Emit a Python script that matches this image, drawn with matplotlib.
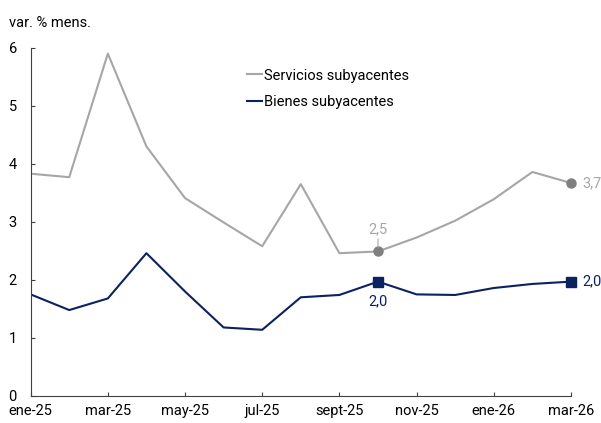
import matplotlib.pyplot as plt

plt.rcParams["font.family"] = ["Roboto", "DejaVu Sans"]

MONTHS = ["ene-25", "feb-25", "mar-25", "abr-25", "may-25", "jun-25", "jul-25",
          "ago-25", "sept-25", "oct-25", "nov-25", "dic-25", "ene-26", "feb-26", "mar-26"]
SERVICIOS = [3.83, 3.77, 5.90, 4.30, 3.41, 2.99, 2.58, 3.65, 2.46, 2.49,
             2.73, 3.02, 3.39, 3.86, 3.67]
BIENES = [1.75, 1.48, 1.68, 2.46, 1.80, 1.18, 1.14, 1.70, 1.74, 1.97,
          1.75, 1.74, 1.86, 1.93, 1.97]
Y_TICKS = [0, 1, 2, 3, 4, 5, 6]

GRAY = "#A6A6A6"
GRAY_MARK = "#7F7F7F"
NAVY = "#0C2160"
FS = 10.5

fig = plt.figure(figsize=(6.01, 4.23), dpi=100)
ax = fig.add_axes([0.051, 0.064, 0.899, 0.823])

x = list(range(len(MONTHS)))
ax.plot(x, SERVICIOS, color=GRAY, linewidth=1.5, label="Servicios subyacentes")
ax.plot(x, BIENES, color=NAVY, linewidth=1.5, label="Bienes subyacentes")

# highlighted points: oct-25 and the last month
for i in (9, len(MONTHS) - 1):
    ax.plot(x[i], SERVICIOS[i], "o", color=GRAY_MARK, markersize=6.5, clip_on=False)
    ax.plot(x[i], BIENES[i], "s", color=NAVY, markersize=7, clip_on=False)

fmt = lambda v: f"{v:.1f}".replace(".", ",")
ax.annotate(fmt(SERVICIOS[9]), (x[9], SERVICIOS[9]), xytext=(0, 11),
            textcoords="offset points", ha="center", va="bottom",
            color=GRAY, fontsize=FS,
            arrowprops=dict(arrowstyle="-", color=GRAY, lw=0.8, shrinkA=0, shrinkB=3))
ax.annotate(fmt(SERVICIOS[-1]), (x[-1], SERVICIOS[-1]), xytext=(8, 0),
            textcoords="offset points", ha="left", va="center",
            color=GRAY, fontsize=FS)
ax.annotate(fmt(BIENES[9]), (x[9], BIENES[9]), xytext=(0, -9),
            textcoords="offset points", ha="center", va="top",
            color=NAVY, fontsize=FS)
ax.annotate(fmt(BIENES[-1]), (x[-1], BIENES[-1]), xytext=(8, 0),
            textcoords="offset points", ha="left", va="center",
            color=NAVY, fontsize=FS)

ax.set_xlim(0, len(MONTHS) - 1)
ax.set_ylim(0, 6)
ax.set_yticks(Y_TICKS)
ax.set_xticks(x[::2])
ax.set_xticklabels(MONTHS[::2])
ax.tick_params(direction="in", length=3, width=0.8, colors="#404040",
               labelcolor="black", labelsize=FS)
ax.tick_params(axis="y", pad=10)
ax.tick_params(axis="x", pad=6)
for s in ("top", "right"):
    ax.spines[s].set_visible(False)
for s in ("left", "bottom"):
    ax.spines[s].set_color("#404040")
    ax.spines[s].set_linewidth(0.8)

ax.legend(loc="upper left", bbox_to_anchor=(0.377, 0.978), frameon=False,
          fontsize=FS, handlelength=1.0, handletextpad=0.1, labelspacing=0.85)

fig.text(0.015, 0.93, "var. % mens.", fontsize=FS, ha="left", va="bottom")

fig.savefig("out.png", dpi=100)
